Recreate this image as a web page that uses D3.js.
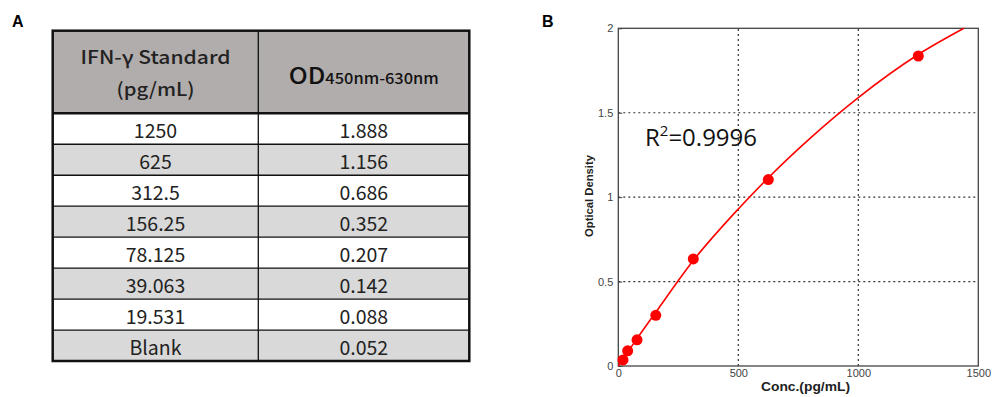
<!DOCTYPE html>
<html><head><meta charset="utf-8">
<script src="https://cdn.jsdelivr.net/npm/d3@7"></script>
<style>html,body{margin:0;padding:0;background:#fff;}svg{display:block;}</style>
</head><body>
<svg id="c" width="1000" height="397"></svg>
<script>
// ---- Table data (panel A)
const standards = ["1250", "625", "312.5", "156.25", "78.125", "39.063", "19.531", "Blank"];
const odValues = ["1.888", "1.156", "0.686", "0.352", "0.207", "0.142", "0.088", "0.052"];
// ---- Plot data (panel B), blank-subtracted OD
const concPoints = [19.531, 39.063, 78.125, 156.25, 312.5, 625, 1250];
const odPoints = [0.036, 0.090, 0.155, 0.300, 0.634, 1.104, 1.836];
// fitted curve
const fitConc = [0, 19.5, 39, 78, 156, 312.5, 500, 625, 800, 1000, 1250, 1440];
const fitOD = [0, 0.04, 0.082, 0.162, 0.318, 0.625, 0.93, 1.115, 1.35, 1.59, 1.845, 2.0];
const xTicks = [0, 500, 1000, 1500];
const yTicks = [0, 0.5, 1, 1.5, 2];

const svg = d3.select("#c");

// ===== Panel labels
svg.append("text").attr("x", 12).attr("y", 27).text("A")
  .attr("font-family", "Liberation Sans, Arial").attr("font-weight", "bold").attr("font-size", 16);
svg.append("text").attr("x", 542).attr("y", 27).text("B")
  .attr("font-family", "Liberation Sans, Arial").attr("font-weight", "bold").attr("font-size", 16);

// ===== Table
const tL = 52.7, tR = 469.3, tMid = 258.3, hTop = 30.7, hBot = 113.3, tBot = 361;
const rowY = d3.scaleBand().domain(d3.range(standards.length)).range([hBot, tBot]).padding(0);
const tf = "'Noto Sans CJK SC', 'Noto Sans', sans-serif";
const tg = svg.append("g");
tg.append("rect").attr("x", tL).attr("y", hTop).attr("width", tR - tL).attr("height", hBot - hTop).attr("fill", "#b1adac");
tg.selectAll("rect.row").data(standards).join("rect").attr("class", "row")
  .attr("x", tL).attr("y", (d, i) => rowY(i)).attr("width", tR - tL).attr("height", rowY.bandwidth())
  .attr("fill", (d, i) => i % 2 ? "#d9d9d9" : "#ffffff");
tg.selectAll("line.rl").data(d3.range(1, standards.length)).join("line").attr("class", "rl")
  .attr("x1", tL).attr("x2", tR).attr("y1", i => rowY(i)).attr("y2", i => rowY(i))
  .attr("stroke", "#111").attr("stroke-width", 1.3);
tg.append("line").attr("x1", tL).attr("x2", tR).attr("y1", hBot).attr("y2", hBot).attr("stroke", "#111").attr("stroke-width", 2.5);
tg.append("line").attr("x1", tMid).attr("x2", tMid).attr("y1", hTop).attr("y2", tBot).attr("stroke", "#111").attr("stroke-width", 1.3);
tg.append("rect").attr("x", tL).attr("y", hTop).attr("width", tR - tL).attr("height", tBot - hTop)
  .attr("fill", "none").attr("stroke", "#111").attr("stroke-width", 2.5);
const c1 = (tL + tMid) / 2, c2 = (tMid + tR) / 2;
tg.append("text").attr("x", c1).attr("y", 64).attr("text-anchor", "middle").attr("font-family", tf)
  .attr("font-size", 18.5).attr("font-weight", 500).attr("fill", "#222")
  .attr("textLength", 150).attr("lengthAdjust", "spacingAndGlyphs").text("IFN-γ Standard");
tg.append("text").attr("x", c1).attr("y", 96).attr("text-anchor", "middle").attr("font-family", tf)
  .attr("font-size", 18.5).attr("font-weight", 500).attr("fill", "#222")
  .attr("textLength", 78).attr("lengthAdjust", "spacingAndGlyphs").text("(pg/mL)");
const od = tg.append("text").attr("x", c2).attr("y", 84).attr("text-anchor", "middle").attr("font-family", tf).attr("fill", "#111")
  .attr("textLength", 150).attr("lengthAdjust", "spacingAndGlyphs");
od.append("tspan").attr("font-size", 23).attr("font-weight", 500).text("OD");
od.append("tspan").attr("font-size", 15).attr("font-weight", 500).text("450nm-630nm");
tg.selectAll("text.s").data(standards).join("text").attr("class", "s")
  .attr("x", c1).attr("y", (d, i) => rowY(i) + rowY.bandwidth() - 6).attr("text-anchor", "middle")
  .attr("font-family", tf).attr("font-size", 19.5).attr("fill", "#222").text(d => d);
tg.selectAll("text.o").data(odValues).join("text").attr("class", "o")
  .attr("x", c2).attr("y", (d, i) => rowY(i) + rowY.bandwidth() - 6).attr("text-anchor", "middle")
  .attr("font-family", tf).attr("font-size", 19.5).attr("fill", "#222").text(d => d);

// ===== Plot
const x = d3.scaleLinear().domain([0, 1500]).range([618.3, 978.3]);
const y = d3.scaleLinear().domain([0, 2]).range([366, 28.3]);
const pg = svg.append("g");
pg.selectAll("line.gx").data(xTicks.slice(1, -1)).join("line").attr("class", "gx")
  .attr("x1", d => x(d)).attr("x2", d => x(d)).attr("y1", y(0)).attr("y2", y(2))
  .attr("stroke", "#333").attr("stroke-width", 1.2).attr("stroke-dasharray", "2,3");
pg.selectAll("line.gy").data(yTicks.slice(1, -1)).join("line").attr("class", "gy")
  .attr("x1", x(0)).attr("x2", x(1500)).attr("y1", d => y(d)).attr("y2", d => y(d))
  .attr("stroke", "#333").attr("stroke-width", 1.2).attr("stroke-dasharray", "2,3");
pg.append("rect").attr("x", x(0)).attr("y", y(2)).attr("width", x(1500) - x(0)).attr("height", y(0) - y(2))
  .attr("fill", "none").attr("stroke", "#444").attr("stroke-width", 1.3);
const af = "Liberation Sans, Arial, sans-serif";
const xa = pg.append("g").attr("transform", `translate(0,${y(0)})`)
  .call(d3.axisBottom(x).tickValues(xTicks).tickSize(0).tickPadding(3).tickFormat(d3.format("d")));
xa.select(".domain").remove();
xa.selectAll("text").attr("font-family", af).attr("font-size", 11).attr("fill", "#444");
const ya = pg.append("g").attr("transform", `translate(${x(0)},0)`)
  .call(d3.axisLeft(y).tickValues(yTicks).tickSize(-4).tickPadding(5).tickFormat(d3.format("~g")));
ya.select(".domain").remove();
ya.selectAll("line").attr("stroke", "#444");
ya.selectAll("text").attr("font-family", af).attr("font-size", 11).attr("fill", "#444");
pg.append("text").attr("x", 805.5).attr("y", 391).attr("text-anchor", "middle")
  .attr("font-family", af).attr("font-weight", "bold").attr("font-size", 12).attr("fill", "#222")
  .attr("textLength", 89).attr("lengthAdjust", "spacingAndGlyphs").text("Conc.(pg/mL)");
pg.append("text").attr("transform", "translate(593,196) rotate(-90)").attr("text-anchor", "middle")
  .attr("font-family", af).attr("font-weight", "bold").attr("font-size", 11).attr("fill", "#222")
  .attr("textLength", 82).attr("lengthAdjust", "spacingAndGlyphs").text("Optical Density");
const fit = fitConc.map((c, i) => [c, fitOD[i]]);
pg.append("path").datum(fit).attr("fill", "none").attr("stroke", "#ff0000").attr("stroke-width", 1.6)
  .attr("d", d3.line().x(d => x(d[0])).y(d => y(d[1])).curve(d3.curveMonotoneX));
pg.selectAll("circle").data(concPoints).join("circle")
  .attr("cx", d => x(d)).attr("cy", (d, i) => y(odPoints[i])).attr("r", 5.5).attr("fill", "#ff0000");
const r2 = pg.append("text").attr("x", 645).attr("y", 146).attr("font-family", "'Open Sans', 'Noto Sans', sans-serif")
  .attr("font-size", 24).attr("fill", "#111");
r2.append("tspan").text("R");
r2.append("tspan").attr("font-size", 15).attr("dy", -10).text("2");
r2.append("tspan").attr("dy", 10).text("=0.9996");
</script>
</body></html>
